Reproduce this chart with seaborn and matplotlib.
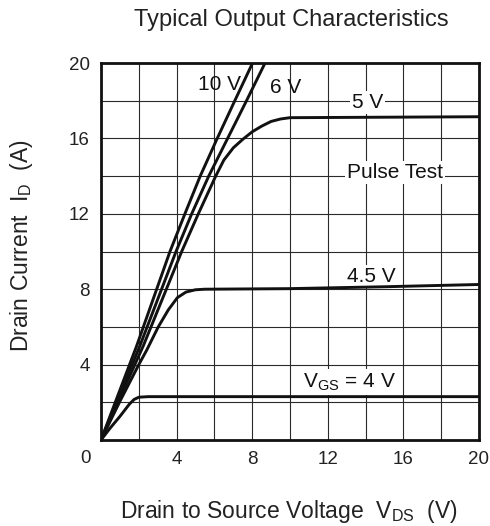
import numpy as np
import pandas as pd
import matplotlib
matplotlib.use('Agg')
import matplotlib.pyplot as plt
import seaborn as sns

# curves, V_DS (V) vs I_D (A)
vds_10v = [0, 1.89, 3.65, 4.44, 5.25, 6.15, 7.08, 8.02]
id_10v = [0, 5.0, 10.0, 12.0, 14.0, 16.0, 18.0, 20.0]
vds_6v = [0, 2.06, 3.97, 4.8, 5.7, 6.7, 7.7, 8.68]
id_6v = [0, 5.0, 10.0, 12.0, 14.0, 16.0, 18.0, 20.0]
vds_5v = [0, 2.24, 4.27, 5.15, 6.07, 6.5, 7.0, 7.5, 8.0, 8.5, 9.0, 9.5, 10.0, 20.0]
id_5v = [0, 5.0, 10.0, 12.0, 14.0, 14.85, 15.5, 15.95, 16.35, 16.65, 16.9, 17.03, 17.1, 17.15]
vds_45v = [0, 1.0, 2.0, 2.42, 3.03, 3.56, 4.04, 4.5, 5.0, 5.5, 10.0, 15.0, 20.0]
id_45v = [0, 2.05, 4.0, 4.77, 6.0, 6.9, 7.55, 7.85, 7.97, 8.0, 8.03, 8.13, 8.25]
vds_4v = [0, 0.5, 1.0, 1.5, 1.75, 2.0, 2.5, 20.0]
id_4v = [0, 0.65, 1.25, 1.9, 2.15, 2.27, 2.3, 2.3]

x_ticks = [4, 8, 12, 16, 20]
y_ticks = [4, 8, 12, 16, 20]
grid_steps = np.arange(0, 21, 2)

curves = {'10 V': (vds_10v, id_10v), '6 V': (vds_6v, id_6v), '5 V': (vds_5v, id_5v),
          '4.5 V': (vds_45v, id_45v), '4 V': (vds_4v, id_4v)}
rows = []
for name, (xs, ys) in curves.items():
    for xv, yv in zip(xs, ys):
        rows.append({'vgs': name, 'vds': xv, 'id': yv})
df = pd.DataFrame(rows)

sns.set_style('white')
plt.rcParams['font.family'] = ['Liberation Sans', 'DejaVu Sans']
plt.rcParams['mathtext.fontset'] = 'custom'
plt.rcParams['mathtext.rm'] = 'Liberation Sans'

fig = plt.figure(figsize=(4.9, 5.26), dpi=100)
ax = fig.add_axes([0.2061, 0.1635, 0.7714, 0.7167])

sns.lineplot(data=df, x='vds', y='id', hue='vgs', palette=['#111111'] * 5,
             estimator=None, legend=False, lw=2.1, ax=ax, zorder=3)

ax.set_xlim(0, 20)
ax.set_ylim(0, 20)
ax.set_xticks(x_ticks)
ax.set_yticks(y_ticks)
ax.set_xticks(grid_steps, minor=True)
ax.set_yticks(grid_steps, minor=True)
ax.grid(which='both', color='#2a2a2a', lw=0.8)
ax.tick_params(which='both', length=0, labelsize=13.5, pad=8, colors='#222222')
ax.set_xlabel('')
ax.set_ylabel('')
for s in ax.spines.values():
    s.set_linewidth(2)
    s.set_color('#111111')
# shared origin label
ax.text(-0.8, -0.048, '0', transform=ax.get_xaxis_transform(), ha='center', va='center',
        fontsize=13.5, color='#222222')

box = dict(facecolor='white', edgecolor='none', pad=1.5)
kw = dict(ha='center', va='baseline', fontsize=15, color='#111111', zorder=2)
ax.text(6.25, 18.57, '10 V', **kw)
ax.text(9.78, 18.41, '6 V', **kw)
ax.text(14.1, 17.61, '5 V', bbox=box, **kw)
ax.text(15.56, 13.9, 'Pulse Test', bbox=box, **kw)
ax.text(14.3, 8.38, '4.5 V', bbox=box, **kw)
ax.text(13.12, 2.81, r'V$_\mathregular{GS}$ = 4 V', bbox=box, **kw)

fig.text(0.594, 1 - 26 / 526, 'Typical Output Characteristics', ha='center', va='baseline',
         fontsize=17, color='#222222')
fig.text(0.589, 1 - 518 / 526, r'Drain to Source Voltage  V$_\mathregular{DS}$  (V)',
         ha='center', va='baseline', fontsize=16.5, color='#222222')
fig.text(21.5 / 490, 1 - 246 / 526, r'Drain Current  I$_\mathregular{D}$  (A)', rotation=90,
         ha='center', va='center', fontsize=16.5, color='#222222')

fig.savefig('out.png', dpi=100)
